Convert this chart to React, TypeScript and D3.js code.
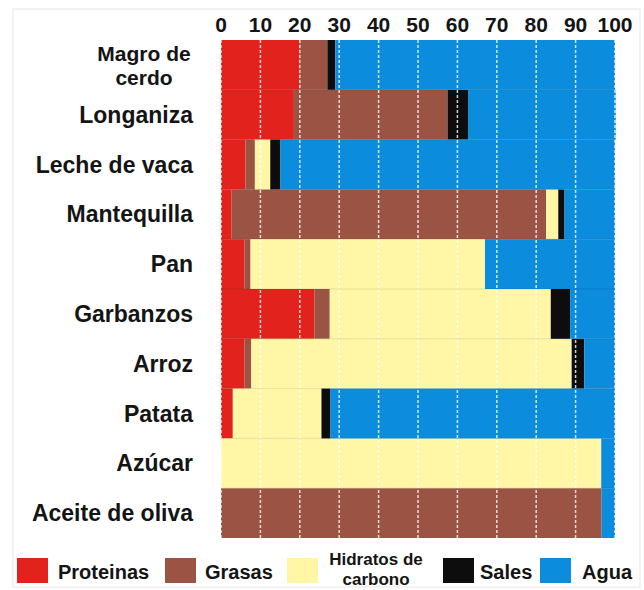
import React from "react";
import * as d3 from "d3";

const categories = [
  "Magro de cerdo",
  "Longaniza",
  "Leche de vaca",
  "Mantequilla",
  "Pan",
  "Garbanzos",
  "Arroz",
  "Patata",
  "Azúcar",
  "Aceite de oliva",
];
const categoryLines: Record<string, string[]> = {
  "Magro de cerdo": ["Magro de", "cerdo"],
};

const proteinas = [20, 18.5, 6.2, 2.7, 6, 23.7, 6, 3, 0, 0];
const grasas = [7, 39, 2.4, 79.8, 1.5, 3.9, 1.7, 0, 0, 96.6];
const hidratos = [0, 0, 3.9, 3.1, 59.5, 56.1, 81.3, 22.5, 96.5, 0];
const sales = [2, 5.2, 2.6, 1.6, 0, 4.9, 3.2, 2.3, 0, 0];
const agua = [71, 37.5, 84.9, 12.8, 33, 11.4, 7.8, 72.2, 3.5, 3.4];

const seriesNames = ["Proteinas", "Grasas", "Hidratos de carbono", "Sales", "Agua"];
const seriesValues = [proteinas, grasas, hidratos, sales, agua];
const seriesColors = ["#e2221c", "#9b5444", "#fff7a6", "#0d0d0d", "#0b8cdc"];
const legendLines = [["Proteinas"], ["Grasas"], ["Hidratos de", "carbono"], ["Sales"], ["Agua"]];

const tickValues = [0, 10, 20, 30, 40, 50, 60, 70, 80, 90, 100];

const W = 644;
const H = 590;

export default function App() {
  const x = d3.scaleLinear().domain([0, 100]).range([221, 615]);
  const y = d3
    .scaleBand<string>()
    .domain(categories)
    .range([40, 538])
    .paddingInner(0)
    .paddingOuter(0);

  const table = categories.map((c, i) => {
    const row: Record<string, number | string> = { cat: c };
    seriesNames.forEach((s, j) => (row[s] = seriesValues[j][i]));
    return row;
  });
  const stacked = d3.stack<any>().keys(seriesNames)(table as any);

  const font = "'Liberation Sans', Arial, Helvetica, sans-serif";
  const legendSquares = [17, 165, 287, 443, 540];
  const legendTextX = [58, 205, 376, 480, 582];

  return (
    <svg
      width={W}
      height={H}
      style={{ position: "absolute", left: 0, top: 0, background: "#fff" }}
      fontFamily={font}
    >
      <rect x={13} y={9} width={627} height={578} fill="none" stroke="#e6e6e6" strokeWidth={1} />
      {/* bars */}
      {stacked.map((layer, j) => (
        <g key={layer.key} fill={seriesColors[j]}>
          {layer.map((d, i) => {
            const w = x(d[1]) - x(d[0]);
            if (w <= 0) return null;
            return (
              <rect
                key={i}
                x={x(d[0])}
                y={y(categories[i])!}
                width={w}
                height={y.bandwidth()}
              />
            );
          })}
        </g>
      ))}
      {/* faint row separators */}
      {categories.slice(1).map((c) => (
        <line
          key={c}
          x1={x(0)}
          x2={x(100)}
          y1={y(c)!}
          y2={y(c)!}
          stroke="#000"
          strokeOpacity={0.1}
          strokeWidth={1}
        />
      ))}
      {/* grid lines */}
      {tickValues.map((t) => (
        <line
          key={t}
          x1={x(t)}
          x2={x(t)}
          y1={40}
          y2={538}
          stroke="#ffffff"
          strokeOpacity={0.8}
          strokeWidth={1.5}
          strokeDasharray="3,2"
        />
      ))}
      {/* tick labels */}
      {tickValues.map((t) => (
        <text
          key={t}
          x={x(t)}
          y={32}
          textAnchor="middle"
          fontSize={21}
          fontWeight="bold"
          fill="#141414"
        >
          {t}
        </text>
      ))}
      {/* category labels */}
      {categories.map((c) => {
        const cy = y(c)! + y.bandwidth() / 2;
        const lines = categoryLines[c];
        if (lines) {
          return (
            <text
              key={c}
              x={144}
              textAnchor="middle"
              fontSize={21}
              fontWeight="bold"
              fill="#141414"
            >
              {lines.map((l, k) => (
                <tspan key={k} x={144} y={cy - 4 + k * 24}>
                  {l}
                </tspan>
              ))}
            </text>
          );
        }
        return (
          <text
            key={c}
            x={193}
            y={cy + 8}
            textAnchor="end"
            fontSize={23}
            fontWeight="bold"
            fill="#141414"
          >
            {c}
          </text>
        );
      })}
      {/* legend */}
      {seriesNames.map((s, j) => (
        <g key={s}>
          <rect x={legendSquares[j]} y={558} width={31} height={25} fill={seriesColors[j]} />
          {legendLines[j].length === 1 ? (
            <text
              x={legendTextX[j]}
              y={579}
              fontSize={20}
              fontWeight="bold"
              fill="#141414"
            >
              {legendLines[j][0]}
            </text>
          ) : (
            <text
              x={legendTextX[j]}
              textAnchor="middle"
              fontSize={17}
              fontWeight="bold"
              fill="#141414"
            >
              {legendLines[j].map((l, k) => (
                <tspan key={k} x={legendTextX[j]} y={565 + k * 19.5}>
                  {l}
                </tspan>
              ))}
            </text>
          )}
        </g>
      ))}
    </svg>
  );
}
